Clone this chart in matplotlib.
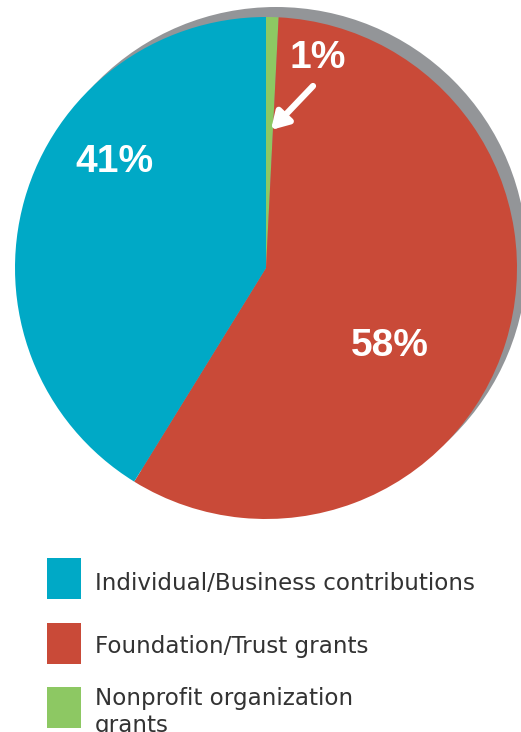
import matplotlib
matplotlib.use("Agg")
import matplotlib.pyplot as plt
from matplotlib.patches import Circle, Rectangle

categories = ["Individual/Business contributions", "Foundation/Trust grants", "Nonprofit organization\ngrants"]
values = [41.2, 58.0, 0.8]
colors = ["#00A9C6", "#C94A38", "#8DC863"]
labels = ["41%", "58%", "1%"]

W, H = 521, 732
fig = plt.figure(figsize=(W / 100, H / 100), dpi=100)
ax = fig.add_axes([0, 0, 1, 1])
ax.set_xlim(0, W)
ax.set_ylim(0, H)
ax.axis("off")

cx, cy, r = 266, H - 268, 251

# shadow
ax.add_patch(Circle((cx + 10, cy + 10), r, color="#939598", zorder=1, lw=0))

# pie, clockwise from top: green, red, teal
order = [2, 1, 0]
wedges, _ = ax.pie([values[i] for i in order], colors=[colors[i] for i in order],
                   startangle=90, counterclock=False, center=(cx, cy), radius=r,
                   wedgeprops=dict(linewidth=0, zorder=2), frame=True)
for w in wedges:
    w.set_zorder(2)
ax.set_xlim(0, W)
ax.set_ylim(0, H)
ax.set_aspect("equal")
ax.axis("off")

lab_font = dict(color="white", fontsize=28, fontweight="bold", family="Liberation Sans",
                ha="center", va="center", zorder=5)
ax.text(114, H - 162, labels[0], **lab_font)
ax.text(390, H - 346, labels[1], **lab_font)
ax.text(318, H - 58, labels[2], **lab_font)

ax.annotate("", xy=(271, H - 130), xytext=(313, H - 86),
            arrowprops=dict(arrowstyle="-|>,head_length=1.0,head_width=0.6", color="white",
                            lw=4.5, shrinkA=0, shrinkB=0), zorder=5)

# legend
sq_tops = [558, 623, 687]
txt_y = [583, 647, 687]
for i, cat in enumerate(categories):
    ax.add_patch(Rectangle((47, H - sq_tops[i] - 41), 34, 41, color=colors[i], lw=0, zorder=3))
    ax.text(95, H - txt_y[i], cat, fontsize=16.6, color="#333333", family="DejaVu Sans",
            ha="left", va="center" if i < 2 else "top", linespacing=1.22, zorder=3)

fig.savefig("out.png", dpi=100)
